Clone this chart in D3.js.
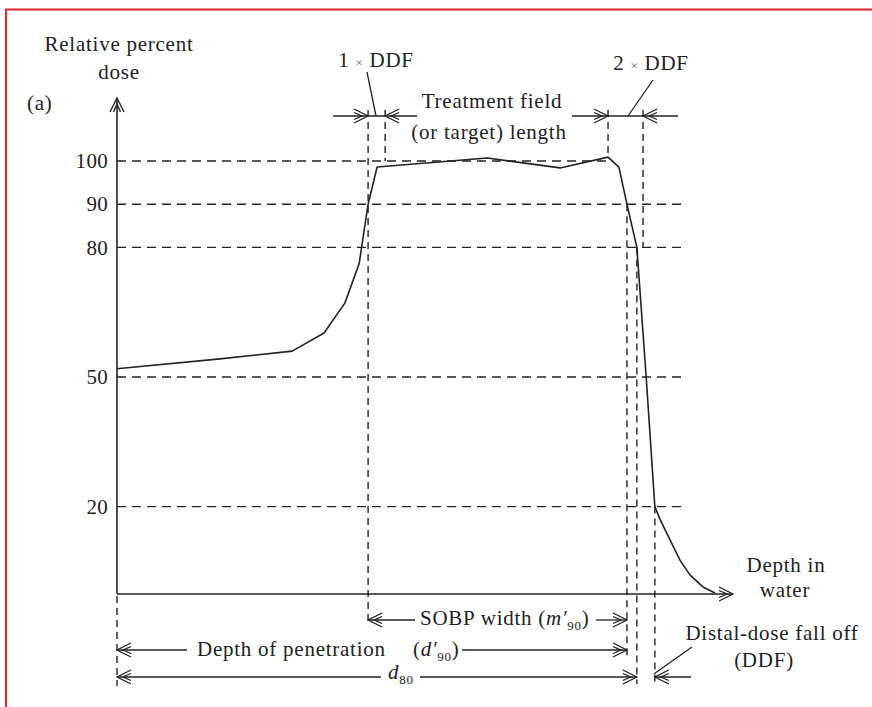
<!DOCTYPE html>
<html>
<head>
<meta charset="utf-8">
<script src="https://cdn.jsdelivr.net/npm/d3@7"></script>
<style>
  html, body { margin: 0; padding: 0; background: #fff; }
  svg { display: block; }
  text { font-family: "Liberation Serif", "Times New Roman", serif; fill: #222; }
</style>
</head>
<body>
<svg id="chart" width="872" height="707"></svg>
<script>
// Depth-dose curve of a spread-out Bragg peak (depth in cm, dose in %)
const depth = [0, 3.32, 5.65, 6.68, 7.35, 7.81, 8.10, 8.39, 11.94, 14.29, 15.84, 16.19, 16.45, 16.77, 17.07, 17.35, 17.52, 17.84, 18.16, 18.48, 18.90, 19.29];
const dose  = [51.9, 54.2, 56.0, 60.2, 67.1, 76.2, 90, 98.6, 100.7, 98.4, 100.9, 98.6, 90, 80, 50, 20, 17.0, 12.3, 7.6, 4.2, 1.4, 0];

// Reference dose levels shown on the axis and their guide-line extents (depth)
const doseLevels = [100, 90, 80, 50, 20];
const levelEnds  = [15.84, 18.2, 18.2, 18.2, 18.2];

// Characteristic depths
const proximal90 = 8.10;   // proximal 90 % point
const ddf1End    = 8.65;   // proximal 90 % + 1 x DDF
const peakDepth  = 15.84;  // end of treatment field
const ddf2End    = 16.97;  // treatment field end + 2 x DDF
const distal90   = 16.45;  // d'90
const distal80   = 16.77;  // d80
const distal20   = 17.35;  // distal 20 % point
const axisEnd    = 19.87;

const svg = d3.select("#chart");
const x = d3.scaleLinear().domain([0, 20]).range([117, 737]);
const y = d3.scaleLinear().domain([0, 100]).range([593, 161]);

const ink = "#222";
const topRow = 116, sobpRow = 620, depthRow = 650, d80Row = 677;

// frame
svg.append("path").attr("d", "M6,707 V9.5 H872")
  .attr("fill", "none").attr("stroke", "#e0262c").attr("stroke-width", 2);

const g = svg.append("g");

// chevron-style dimension arrowhead; dir = +1 points right, -1 left
function arrowHead(tx, ty, dir) {
  const p = d3.path();
  p.moveTo(tx - dir * 14, ty - 7); p.lineTo(tx, ty); p.lineTo(tx - dir * 14, ty + 7);
  p.moveTo(tx - dir * 14, ty - 3.5); p.lineTo(tx - dir * 6, ty); p.lineTo(tx - dir * 14, ty + 3.5);
  g.append("path").attr("d", p.toString()).attr("fill", "none")
    .attr("stroke", ink).attr("stroke-width", 1.3);
}
function hline(x1, x2, yy) {
  g.append("line").attr("x1", x1).attr("x2", x2).attr("y1", yy).attr("y2", yy)
    .attr("stroke", ink).attr("stroke-width", 1.3);
}
function vdash(xx, y1, y2) {
  g.append("line").attr("x1", xx).attr("x2", xx).attr("y1", y1).attr("y2", y2)
    .attr("stroke", ink).attr("stroke-width", 1.4).attr("stroke-dasharray", "7,5");
}

// horizontal dose-level guides
doseLevels.forEach((lv, i) => {
  g.append("line")
    .attr("x1", x(0)).attr("x2", x(levelEnds[i]))
    .attr("y1", y(lv)).attr("y2", y(lv))
    .attr("stroke", ink).attr("stroke-width", 1.4)
    .attr("stroke-dasharray", "9,6");
});

// vertical guides
vdash(x(proximal90), topRow - 6, sobpRow + 6);
vdash(x(ddf1End), topRow - 6, y(100));
vdash(x(peakDepth), topRow - 6, y(100.9));
vdash(x(ddf2End), topRow - 6, y(80));
vdash(x(distal90), y(90), depthRow + 6);
vdash(x(distal80), y(80), d80Row + 7);
vdash(x(distal20), y(20), d80Row + 7);
vdash(x(0), y(0) + 3, d80Row + 9);

// axes
g.append("line").attr("x1", x(0)).attr("x2", x(0)).attr("y1", y(0) + 1).attr("y2", 98)
  .attr("stroke", ink).attr("stroke-width", 1.6);
{
  const p = d3.path();
  p.moveTo(x(0) - 7, 112); p.lineTo(x(0), 98); p.lineTo(x(0) + 7, 112);
  p.moveTo(x(0) - 3.5, 112); p.lineTo(x(0), 104); p.lineTo(x(0) + 3.5, 112);
  g.append("path").attr("d", p.toString()).attr("fill", "none").attr("stroke", ink).attr("stroke-width", 1.4);
}
g.append("line").attr("x1", x(0)).attr("x2", x(axisEnd)).attr("y1", y(0) + 1).attr("y2", y(0) + 1)
  .attr("stroke", ink).attr("stroke-width", 1.6);
arrowHead(x(axisEnd), y(0) + 1, 1);

const yAxis = d3.axisLeft(y).tickValues(doseLevels).tickSize(0).tickPadding(9);
const ya = g.append("g").attr("transform", `translate(${x(0)},0)`).call(yAxis);
ya.select(".domain").remove();
ya.selectAll("text").attr("font-family", "Liberation Serif").attr("font-size", 21)
  .attr("fill", ink).attr("letter-spacing", 0.3);

// dose curve
const pts = depth.map((d, i) => [d, dose[i]]);
g.append("path").datum(pts)
  .attr("d", d3.line().x(d => x(d[0])).y(d => y(d[1])))
  .attr("fill", "none").attr("stroke", ink).attr("stroke-width", 1.6)
  .attr("stroke-linejoin", "round");

// top dimension row: 1 x DDF, treatment field, 2 x DDF
hline(x(proximal90) - 35, x(ddf1End) + 32, topRow);
arrowHead(x(proximal90), topRow, 1);
arrowHead(x(ddf1End), topRow, -1);
hline(x(peakDepth) - 36, x(ddf2End) + 35, topRow);
arrowHead(x(peakDepth), topRow, 1);
arrowHead(x(ddf2End), topRow, -1);

// leaders
g.append("line").attr("x1", 367).attr("y1", 72).attr("x2", 376).attr("y2", topRow)
  .attr("stroke", ink).attr("stroke-width", 1.3);
g.append("line").attr("x1", 653).attr("y1", 80).attr("x2", 628).attr("y2", topRow)
  .attr("stroke", ink).attr("stroke-width", 1.3);
g.append("line").attr("x1", 692).attr("y1", 647).attr("x2", x(distal20) - 1).attr("y2", d80Row - 3)
  .attr("stroke", ink).attr("stroke-width", 1.3);

// bottom rows
// SOBP width
hline(x(proximal90), 415, sobpRow);
arrowHead(x(proximal90), sobpRow, -1);
hline(596, x(distal90), sobpRow);
arrowHead(x(distal90), sobpRow, 1);
// depth of penetration
hline(x(0), 187, depthRow);
arrowHead(x(0), depthRow, -1);
hline(462, x(distal90), depthRow);
arrowHead(x(distal90), depthRow, 1);
// d80
hline(x(0), 381, d80Row);
arrowHead(x(0), d80Row, -1);
hline(420, x(distal80), d80Row);
arrowHead(x(distal80), d80Row, 1);
// distal fall-off
hline(x(distal20), 691, d80Row);
arrowHead(x(distal20), d80Row, -1);

// labels
function label(txt, tx, ty, anchor) {
  return svg.append("text").attr("x", tx).attr("y", ty)
    .attr("text-anchor", anchor || "middle")
    .attr("font-size", 21).attr("letter-spacing", 0.75).text(txt);
}
label("Relative percent", 119, 51);
label("dose", 119, 79);
label("(a)", 27, 110, "start");

const t1 = svg.append("text").attr("x", 376).attr("y", 67).attr("text-anchor", "middle")
  .attr("font-size", 21).attr("letter-spacing", 0.75);
t1.append("tspan").text("1 ");
t1.append("tspan").attr("font-size", 13).attr("fill", "#666").text("×");
t1.append("tspan").text(" DDF");
const t2 = svg.append("text").attr("x", 651).attr("y", 70).attr("text-anchor", "middle")
  .attr("font-size", 21).attr("letter-spacing", 0.75);
t2.append("tspan").text("2 ");
t2.append("tspan").attr("font-size", 13).attr("fill", "#666").text("×");
t2.append("tspan").text(" DDF");

label("Treatment field", 492, 108);
label("(or target) length", 489, 139);
label("Depth in", 786, 572);
label("water", 785, 597);

const s = svg.append("text").attr("x", 420).attr("y", 625).attr("font-size", 21).attr("letter-spacing", 0.75);
s.append("tspan").text("SOBP width (");
s.append("tspan").attr("font-style", "italic").text("m′");
s.append("tspan").attr("font-size", 13).attr("dy", 5).text("90");
s.append("tspan").attr("dy", -5).text(")");

label("Depth of penetration", 197, 656, "start");
const dp = svg.append("text").attr("x", 413).attr("y", 656).attr("font-size", 21).attr("letter-spacing", 0.75);
dp.append("tspan").text("(");
dp.append("tspan").attr("font-style", "italic").text("d′");
dp.append("tspan").attr("font-size", 13).attr("dy", 5).text("90");
dp.append("tspan").attr("dy", -5).text(")");

const d8 = svg.append("text").attr("x", 388).attr("y", 679).attr("font-size", 21).attr("letter-spacing", 0.75);
d8.append("tspan").attr("font-style", "italic").text("d");
d8.append("tspan").attr("font-size", 13).attr("dy", 5).text("80");

label("Distal-dose fall off", 772, 640);
label("(DDF)", 764, 667);
</script>
</body>
</html>
